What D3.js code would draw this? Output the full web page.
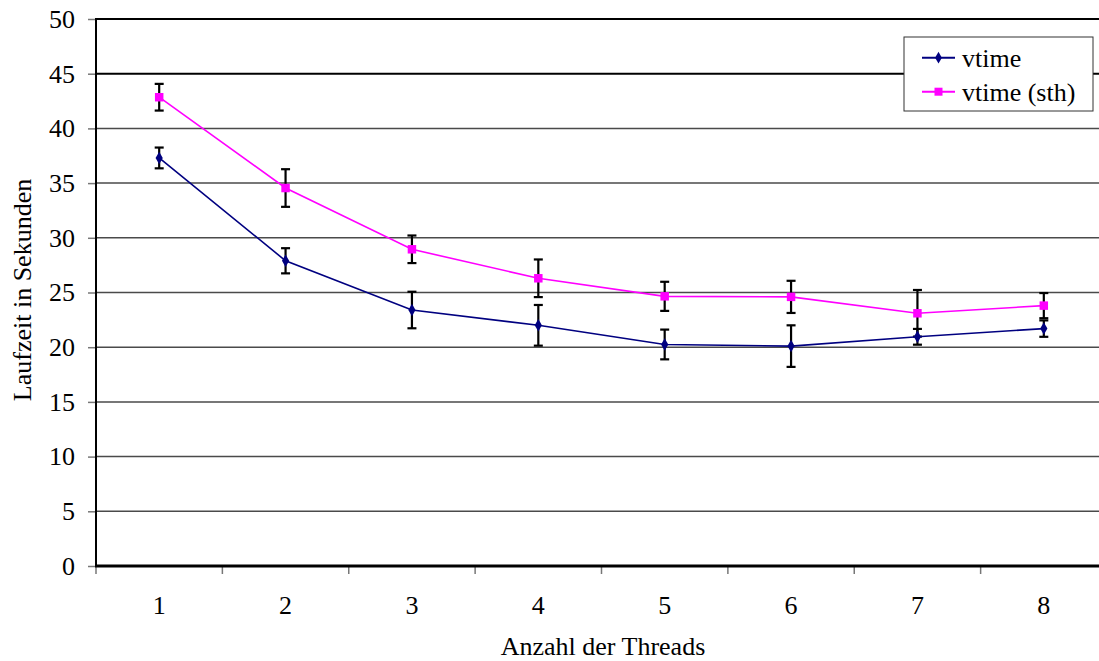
<!DOCTYPE html>
<html>
<head>
<meta charset="utf-8">
<script src="https://cdn.jsdelivr.net/npm/d3@7/dist/d3.min.js"></script>
<style>
  html, body { margin: 0; padding: 0; background: #fff; }
  svg { display: block; }
</style>
</head>
<body>
<svg id="chart" width="1099" height="661"></svg>
<script>
const categories = ["1", "2", "3", "4", "5", "6", "7", "8"];
const seriesNames = ["vtime", "vtime (sth)"];
const vtime = [37.3, 27.9, 23.4, 22.0, 20.25, 20.1, 20.95, 21.7];
const vtimeErr = [0.95, 1.15, 1.67, 1.86, 1.36, 1.9, 0.72, 0.75];
const vtimeSth = [42.85, 34.55, 28.95, 26.3, 24.65, 24.6, 23.1, 23.8];
const vtimeSthErr = [1.22, 1.72, 1.26, 1.72, 1.33, 1.47, 2.13, 1.15];
const yTicks = [0, 5, 10, 15, 20, 25, 30, 35, 40, 45, 50];
const colors = ["#000080", "#FF00FF"];

const FONT = "'Liberation Serif', 'Times New Roman', Times, 'DejaVu Serif', serif";
const svg = d3.select("#chart");
const mLeft = 96, mRight = 1107, mTop = 19, mBottom = 566;

const x = d3.scaleBand().domain(categories).range([mLeft, mRight]);
const y = d3.scaleLinear().domain([0, 50]).range([mBottom, mTop]);

// gridlines
svg.append("g").selectAll("line").data(yTicks.filter(t => t > 0 && t < 50)).join("line")
  .attr("x1", mLeft).attr("x2", mRight)
  .attr("y1", d => y(d)).attr("y2", d => y(d))
  .attr("stroke", d => d === 45 ? "#000" : "#4a4a4a")
  .attr("stroke-width", d => d === 45 ? 2 : 1.5);

// top border
svg.append("line").attr("x1", mLeft).attr("x2", mRight).attr("y1", y(50)).attr("y2", y(50))
  .attr("stroke", "#000").attr("stroke-width", 2);

// y axis
const yAxis = d3.axisLeft(y).tickValues(yTicks).tickSize(8).tickPadding(13);
const gy = svg.append("g").attr("transform", `translate(${mLeft},0)`).call(yAxis);
gy.attr("font-family", null).attr("font-size", null);
gy.select(".domain").remove();
gy.selectAll(".tick line").attr("stroke", "#777").attr("stroke-width", 1.5);
gy.selectAll(".tick text").style("font-size", "26px").style("font-family", FONT).attr("fill", "#000");
svg.append("line").attr("x1", mLeft).attr("x2", mLeft).attr("y1", mTop - 1).attr("y2", mBottom + 1)
  .attr("stroke", "#000").attr("stroke-width", 2);

// x axis
const xBoundaries = categories.map(c => x(c)).concat([mRight]);
svg.append("g").selectAll("line").data(xBoundaries).join("line")
  .attr("x1", d => d).attr("x2", d => d).attr("y1", mBottom).attr("y2", mBottom + 8)
  .attr("stroke", "#777").attr("stroke-width", 1.5);
svg.append("g").selectAll("text").data(categories).join("text")
  .attr("x", d => x(d) + x.bandwidth() / 2).attr("y", 614)
  .attr("text-anchor", "middle").style("font-size", "26px").style("font-family", FONT).text(d => d);
svg.append("line").attr("x1", mLeft - 1).attr("x2", mRight).attr("y1", mBottom).attr("y2", mBottom)
  .attr("stroke", "#000").attr("stroke-width", 3);

// axis titles
svg.append("text").attr("x", 603).attr("y", 655).attr("text-anchor", "middle")
  .style("font-size", "26px").style("font-family", FONT).text("Anzahl der Threads");
svg.append("text").attr("transform", "translate(31,290) rotate(-90)").attr("text-anchor", "middle")
  .style("font-size", "26px").style("font-family", FONT).text("Laufzeit in Sekunden");

const cx = d => x(d) + x.bandwidth() / 2;

function drawSeries(vals, errs, color, marker) {
  const g = svg.append("g");
  const line = d3.line().x((d, i) => cx(categories[i])).y(d => y(d));
  g.append("path").datum(vals).attr("d", line).attr("fill", "none")
    .attr("stroke", color).attr("stroke-width", 1.6);
  const eb = g.append("g");
  vals.forEach((v, i) => {
    const px = cx(categories[i]);
    eb.append("line").attr("x1", px).attr("x2", px).attr("y1", y(v + errs[i])).attr("y2", y(v - errs[i]))
      .attr("stroke", "#000").attr("stroke-width", 2.2);
    [v + errs[i], v - errs[i]].forEach(e => {
      eb.append("line").attr("x1", px - 4.5).attr("x2", px + 4.5).attr("y1", y(e)).attr("y2", y(e))
        .attr("stroke", "#000").attr("stroke-width", 2.2);
    });
  });
  const sym = marker === "diamond"
    ? d3.symbol().type(d3.symbolDiamond).size(45)
    : d3.symbol().type(d3.symbolSquare).size(72);
  g.selectAll("path.m").data(vals).join("path").attr("class", "m")
    .attr("transform", (d, i) => `translate(${cx(categories[i])},${y(d)})`)
    .attr("d", sym)
    .attr("fill", color);
}

drawSeries(vtimeSth, vtimeSthErr, colors[1], "square");
drawSeries(vtime, vtimeErr, colors[0], "diamond");

// legend
const lg = svg.append("g");
lg.append("rect").attr("x", 904).attr("y", 37).attr("width", 189).attr("height", 74)
  .attr("fill", "#fff").attr("stroke", "#333").attr("stroke-width", 1);
const legendY = [57.7, 91.7];
seriesNames.forEach((name, i) => {
  lg.append("line").attr("x1", 922).attr("x2", 955).attr("y1", legendY[i]).attr("y2", legendY[i])
    .attr("stroke", colors[i]).attr("stroke-width", 2);
  lg.append("path").attr("transform", `translate(938.5,${legendY[i]})`)
    .attr("d", i === 0 ? d3.symbol().type(d3.symbolDiamond).size(40)() : d3.symbol().type(d3.symbolSquare).size(64)())
    .attr("fill", colors[i]);
  lg.append("text").attr("x", 962).attr("y", legendY[i] + 9).style("font-size", "26px").style("font-family", FONT).text(name);
});
</script>
</body>
</html>
